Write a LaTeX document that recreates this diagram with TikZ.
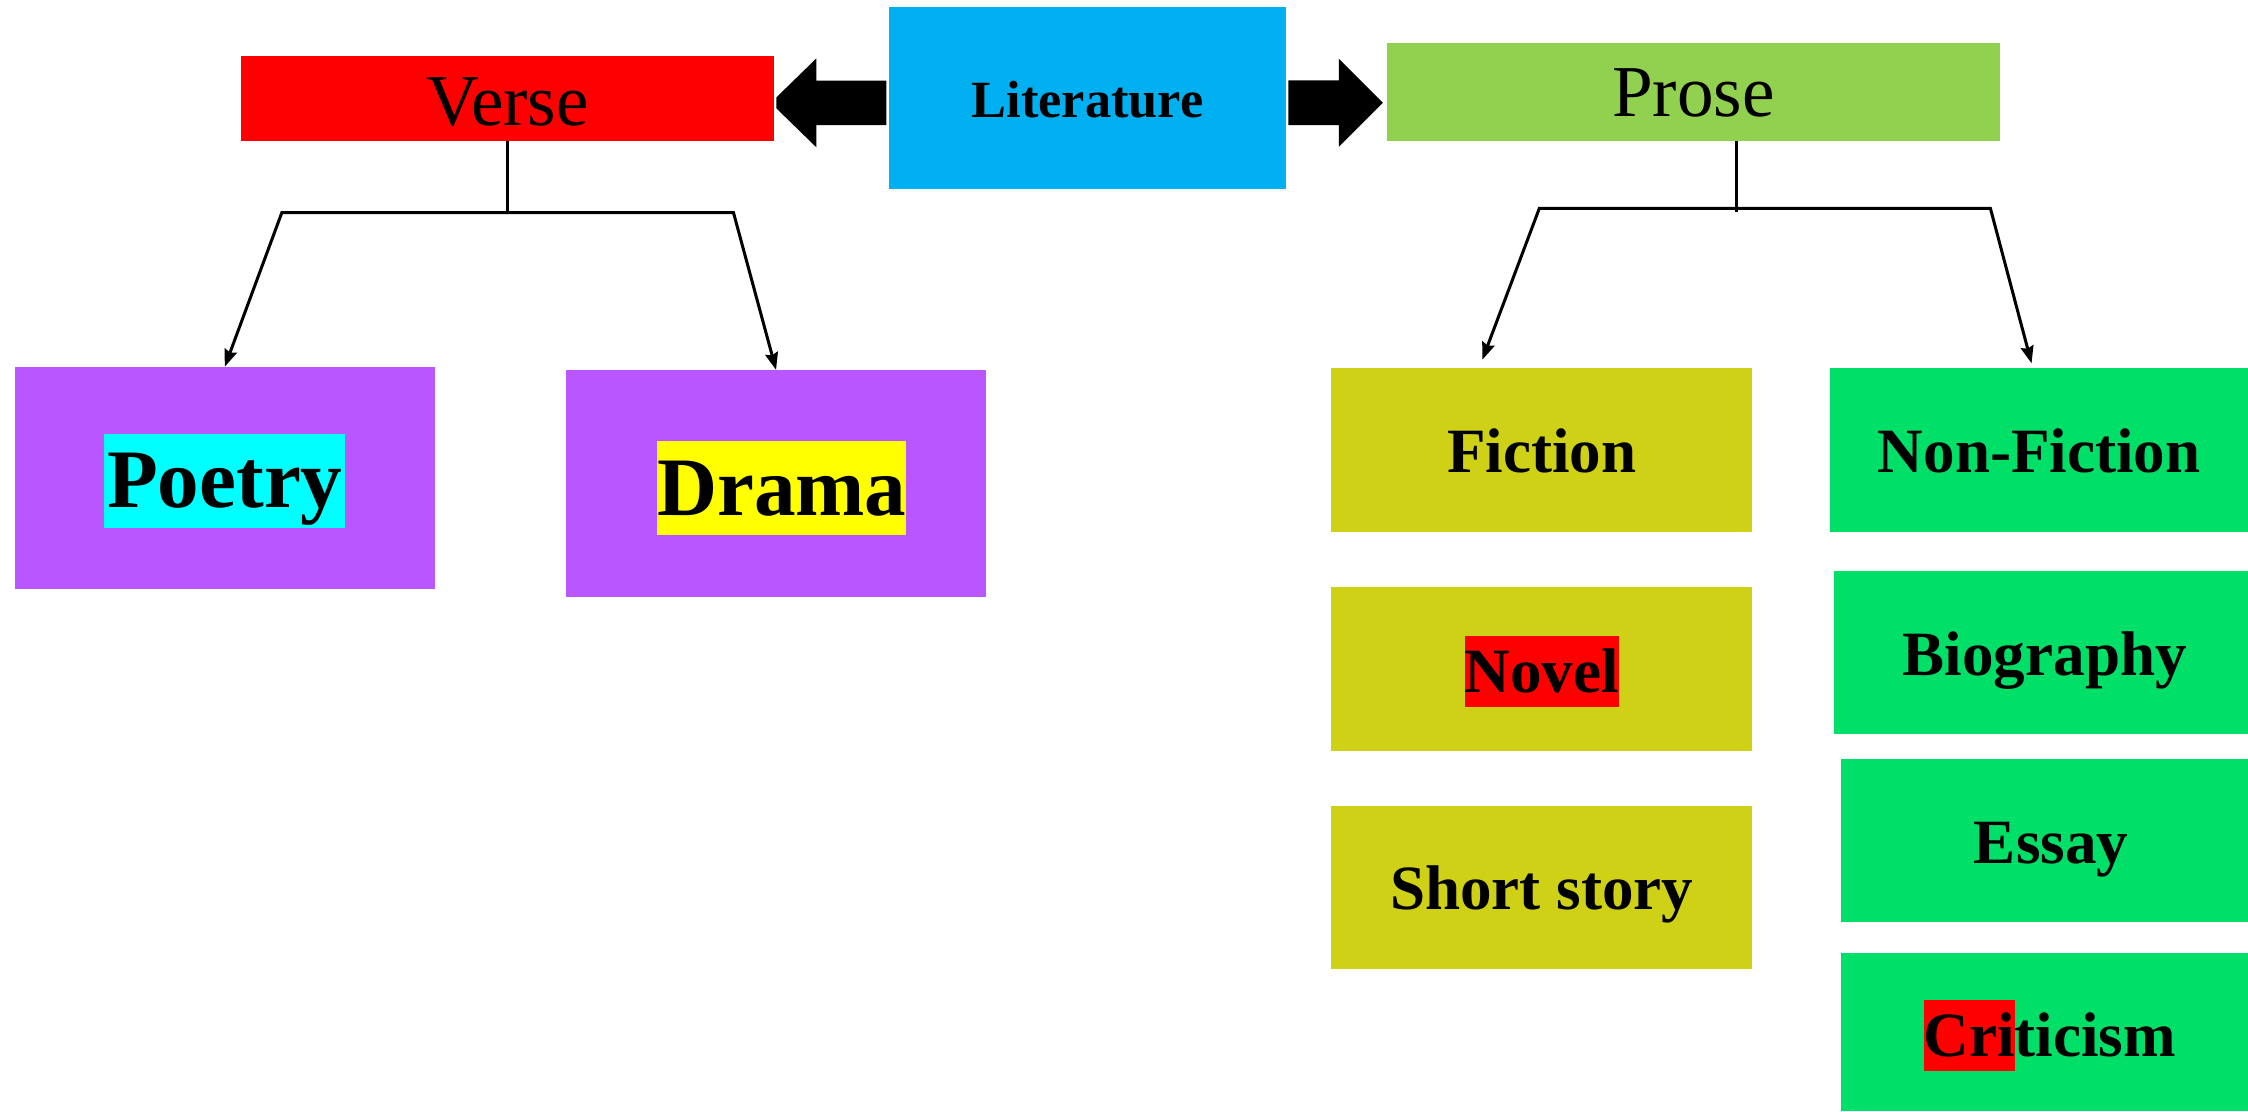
\documentclass[tikz,border=0pt]{standalone}
\usepackage{fontspec}
\setmainfont{Liberation Serif}
\usetikzlibrary{arrows.meta,calc}
\definecolor{litblue}{HTML}{00B0F0}
\definecolor{versered}{HTML}{FF0000}
\definecolor{prosegreen}{HTML}{92D050}
\definecolor{boxpurple}{HTML}{B956FF}
\definecolor{hlcyan}{HTML}{00FFFF}
\definecolor{hlyellow}{HTML}{FFFF00}
\definecolor{olivebox}{HTML}{CFD117}
\definecolor{greenbox}{HTML}{00E068}
\newcommand\hlbox[2]{{\setlength{\fboxsep}{0pt}\colorbox{#1}{\rule[-0.24em]{0pt}{1.13em}#2}}}
\newcommand\fsz[1]{\fontsize{#1}{#1}\selectfont}
\tikzset{
  box/.style={inner sep=0pt, outer sep=0pt, draw=none, text depth=0pt, align=center},
  tline/.style={line width=2.1pt, black},
  biarrow/.style={tline, {Stealth[length=12pt,width=9pt,inset=1.5pt]}-{Stealth[length=12pt,width=9pt,inset=1.5pt]}},
  lbl/.style={font=\bfseries\fsz{44}, text height=31.7pt},
}
\begin{document}
\begin{tikzpicture}[x=1pt,y=-1pt]
\useasboundingbox (0,0) rectangle (1568,775);
% top row
\node[box, fill=litblue, minimum width=276.9pt, minimum height=126.9pt, font=\bfseries\fsz{36.5}, text height=26.3pt] (lit) at (758.55,68.55) {Literature};
\node[box, fill=versered, minimum width=371.8pt, minimum height=59.3pt, font=\fsz{51}, text height=38pt] (verse) at (354,68.65) {Verse};
\node[box, fill=prosegreen, minimum width=427.8pt, minimum height=68.5pt, font=\fsz{51}, text height=34pt] (prose) at (1181.1,64.05) {Prose};
% verse children
\node[box, fill=boxpurple, minimum width=293.2pt, minimum height=155.1pt, font=\bfseries\fsz{58}, text height=41.8pt] (poetry) at (156.8,333.35) {\hlbox{hlcyan}{\hspace{2pt}Poetry\hspace{2pt}}};
\node[box, fill=boxpurple, minimum width=293.4pt, minimum height=158.6pt, font=\bfseries\fsz{58}, text height=44pt] (drama) at (541.3,337.3) {\hspace{8pt}\hlbox{hlyellow}{Drama}};
% prose children
\node[box, lbl, fill=olivebox, minimum width=293.3pt, minimum height=113.9pt] (fiction) at (1075.35,313.85) {Fiction};
\node[box, lbl, fill=greenbox, minimum width=291.4pt, minimum height=113.9pt] (nonfic) at (1422.3,313.85) {Non-Fiction};
\node[box, lbl, fill=olivebox, minimum width=293.3pt, minimum height=114.5pt] (novel) at (1075.35,466.85) {\hlbox{versered}{Novel}};
\node[box, lbl, fill=olivebox, minimum width=293.3pt, minimum height=113.6pt] (short) at (1075.35,618.8) {Short story};
\node[box, lbl, fill=greenbox, minimum width=288.5pt, minimum height=113.6pt] (bio) at (1423.75,455.4) {\hspace{5pt}Biography};
\node[box, lbl, fill=greenbox, minimum width=283.7pt, minimum height=114pt] (essay) at (1426.15,586.1) {\hspace{9pt}Essay};
\node[box, lbl, fill=greenbox, minimum width=283.7pt, minimum height=110.6pt, text height=34pt] (crit) at (1426.15,719.7) {\hspace{7pt}\hlbox{versered}{Cri}ticism};
% block arrows
\fill[black] ([xshift=-1.9pt,yshift=-3.2pt]lit.west) -- ++(0,-15.5) -- ++(-48.8,0) -- ++(0,-15.5)
   -- ++(-27.9,27.2) -- ++(0,7.6) -- ++(27.9,27.2) -- ++(0,-15.5) -- ++(48.8,0) -- cycle;
\fill[black] ([xshift=1.7pt,yshift=-3.1pt]lit.east) -- ++(0,-15.6) -- ++(35.1,0) -- ++(0,-15.1)
   -- ++(30.7,30.7) -- ++(-30.7,30.7) -- ++(0,-15.1) -- ++(-35.1,0) -- cycle;
% verse tree
\coordinate (vL) at (196.6,148.3);
\coordinate (vR) at (511.6,148.3);
\draw[tline] (verse.south) -- (verse.south |- vL);
\draw[biarrow] (poetry.north) -- (vL) -- (vR) -- (drama.north);
% prose tree
\coordinate (pL) at (1073.7,145.3);
\coordinate (pR) at (1388.3,145.3);
\coordinate (pv) at ([xshift=30.2pt]prose.south);
\draw[tline] (pv) -- ++(0,49.7);
\coordinate (fiTip) at ([xshift=-41.4pt,yshift=6pt]fiction.north);
\coordinate (nfTip) at ([xshift=-5.3pt,yshift=3.5pt]nonfic.north);
\draw[biarrow] (fiTip) -- (pL) -- (pR) -- (nfTip);
\end{tikzpicture}
\end{document}
